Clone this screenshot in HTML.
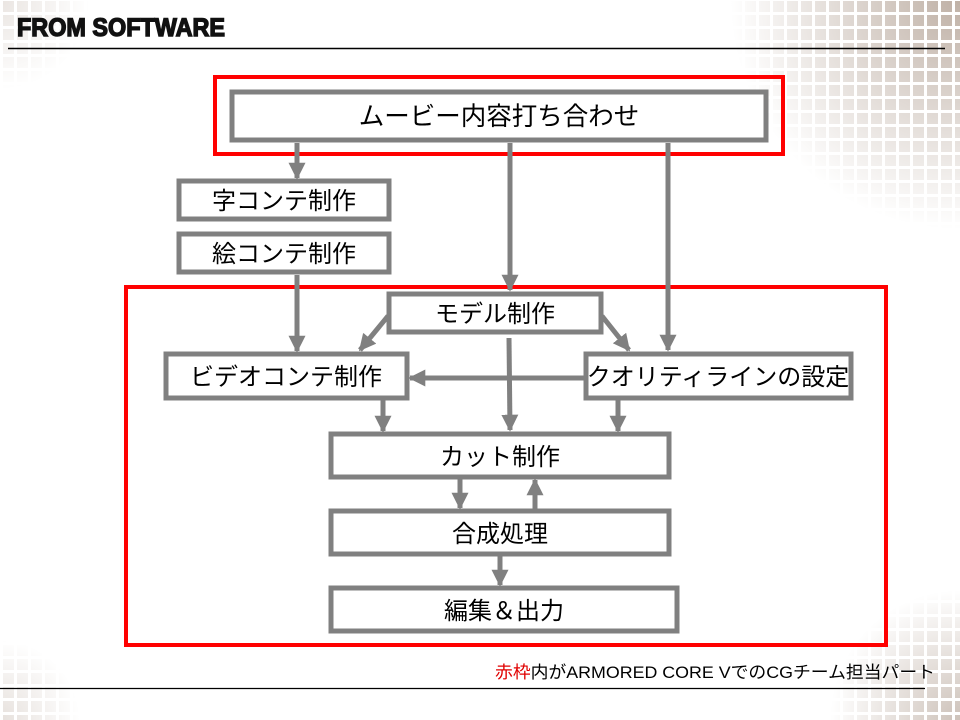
<!DOCTYPE html>
<html><head><meta charset="utf-8"><style>
html,body{margin:0;padding:0;background:#fff;}
svg{display:block}
text{font-family:"Liberation Sans","Noto Sans CJK JP",sans-serif;}
</style></head><body>
<svg width="960" height="720" viewBox="0 0 960 720" xmlns="http://www.w3.org/2000/svg">
<defs>
<pattern id="sq" x="2" y="0" width="14" height="14" patternUnits="userSpaceOnUse">
<rect x="1" y="1" width="11" height="11" fill="#b8a89c"/>
</pattern>
<radialGradient id="gTR" cx="960" cy="0" r="230" gradientUnits="userSpaceOnUse">
<stop offset="0" stop-color="#fff" stop-opacity="0.9"/><stop offset="0.6" stop-color="#fff" stop-opacity="0.35"/><stop offset="1" stop-color="#fff" stop-opacity="0"/></radialGradient>
<radialGradient id="gBR" cx="960" cy="720" r="130" gradientUnits="userSpaceOnUse">
<stop offset="0" stop-color="#fff" stop-opacity="0.7"/><stop offset="1" stop-color="#fff" stop-opacity="0"/></radialGradient>
<radialGradient id="gTL" cx="0" cy="0" r="90" gradientUnits="userSpaceOnUse">
<stop offset="0" stop-color="#fff" stop-opacity="0.3"/><stop offset="1" stop-color="#fff" stop-opacity="0"/></radialGradient>
<radialGradient id="gBL" cx="0" cy="720" r="80" gradientUnits="userSpaceOnUse">
<stop offset="0" stop-color="#fff" stop-opacity="0.35"/><stop offset="1" stop-color="#fff" stop-opacity="0"/></radialGradient>
<mask id="m"><rect x="0" y="0" width="960" height="720" fill="url(#gTR)"/><rect x="0" y="0" width="960" height="720" fill="url(#gBR)"/><rect x="0" y="0" width="960" height="720" fill="url(#gTL)"/><rect x="0" y="0" width="960" height="720" fill="url(#gBL)"/></mask>
<marker id="ah" viewBox="0 0 10 10" refX="9" refY="5" markerWidth="3.4" markerHeight="3.4" orient="auto" markerUnits="strokeWidth">
<path d="M0,0 L10,5 L0,10 z" fill="#808080"/></marker>
</defs>
<rect x="0" y="0" width="960" height="720" fill="url(#sq)" mask="url(#m)"/>

<text x="17" y="36" font-size="25" font-weight="bold" fill="#111" stroke="#111" stroke-width="1.4" textLength="208" lengthAdjust="spacingAndGlyphs">FROM SOFTWARE</text>
<line x1="8" y1="48.5" x2="945" y2="48.5" stroke="#000" stroke-width="1.5"/>

<rect x="215" y="77" width="568" height="77" fill="none" stroke="#f00" stroke-width="4"/>
<rect x="126" y="287" width="760" height="358" fill="none" stroke="#f00" stroke-width="4"/>

<g stroke="#808080" stroke-width="5" fill="#fff">
<rect x="232" y="92" width="534" height="48"/>
<rect x="179" y="181" width="210" height="38"/>
<rect x="179" y="234" width="210" height="38"/>
<rect x="389" y="294" width="212" height="38"/>
<rect x="166" y="354" width="241" height="44"/>
<rect x="586" y="354" width="265" height="44"/>
<rect x="331" y="434" width="338" height="43"/>
<rect x="331" y="511" width="338" height="43"/>
<rect x="331" y="588" width="346" height="43"/>
</g>

<g stroke="#808080" stroke-width="5" fill="none" marker-end="url(#ah)">
<line x1="297" y1="143" x2="297" y2="178"/>
<line x1="510" y1="143" x2="510" y2="290"/>
<line x1="668" y1="143" x2="668" y2="350"/>
<line x1="297" y1="275" x2="297" y2="351"/>
<line x1="388" y1="316" x2="360" y2="350"/>
<line x1="602" y1="316" x2="629" y2="350"/>
<line x1="584" y1="378" x2="410" y2="378"/>
<line x1="509" y1="338" x2="510" y2="430"/>
<line x1="383" y1="400" x2="383" y2="431"/>
<line x1="618" y1="400" x2="618" y2="431"/>
<line x1="460" y1="479" x2="460" y2="508"/>
<line x1="535" y1="509" x2="535" y2="480"/>
<line x1="500" y1="556" x2="500" y2="585"/>
</g>

<g font-size="24" fill="#000" text-anchor="middle">
<text x="499" y="125" font-size="25.5">ムービー内容打ち合わせ</text>
<text x="284" y="209">字コンテ制作</text>
<text x="284" y="262">絵コンテ制作</text>
<text x="495" y="322">モデル制作</text>
<text x="286" y="385">ビデオコンテ制作</text>
<text x="718" y="385">クオリティラインの設定</text>
<text x="500" y="465">カット制作</text>
<text x="500" y="542">合成処理</text>
<text x="504" y="619">編集＆出力</text>
</g>

<text x="495" y="678" font-size="17" font-family="Liberation Serif,'Noto Serif CJK SC',serif" textLength="440" lengthAdjust="spacingAndGlyphs"><tspan fill="#e00000">赤枠</tspan><tspan fill="#000">内がARMORED CORE VでのCGチーム担当パート</tspan></text>
<line x1="0" y1="688.5" x2="925" y2="688.5" stroke="#000" stroke-width="1.2"/>
</svg>
</body></html>
